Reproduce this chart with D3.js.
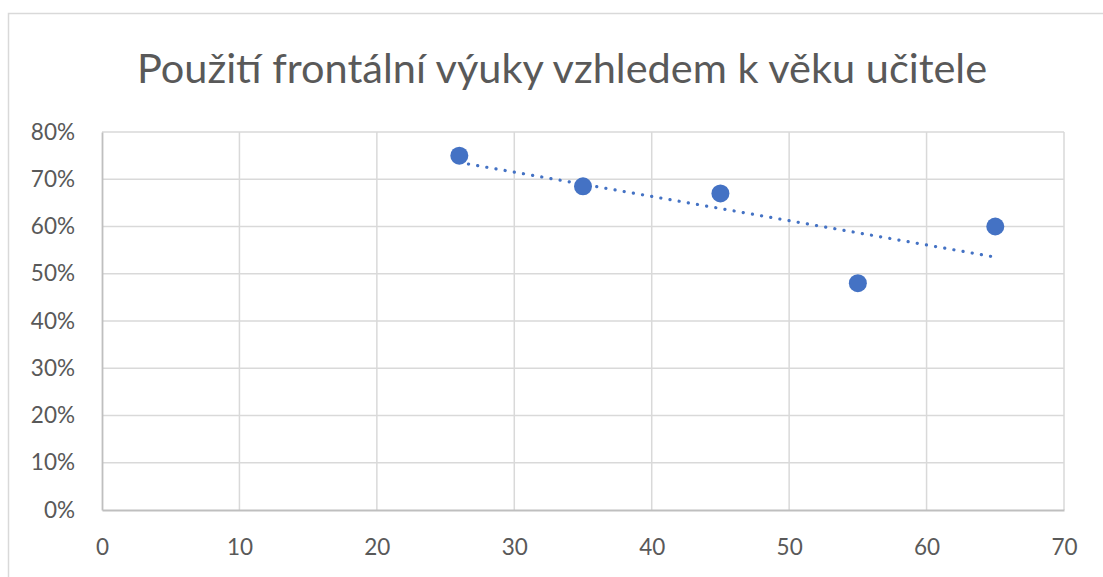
<!DOCTYPE html>
<html><head><meta charset="utf-8">
<script src="https://cdn.jsdelivr.net/npm/d3@7"></script>
<style>body{margin:0;background:#fff;}svg{display:block;}</style>
</head><body>
<svg id="c" width="1103" height="577"></svg>
<script>
const title = "Použití frontální výuky vzhledem k věku učitele";
const ages = [26, 35, 45, 55, 65];
const shares = [0.75, 0.685, 0.67, 0.48, 0.60];
const xTicks = [0, 10, 20, 30, 40, 50, 60, 70];
const yTicks = [0, 0.1, 0.2, 0.3, 0.4, 0.5, 0.6, 0.7, 0.8];

const svg = d3.select("#c");
const font = "Lato, 'Open Sans', sans-serif";
const textColor = "#595959";

// chart border
svg.append("rect").attr("x", 8.5).attr("y", 13.5).attr("width", 1120).attr("height", 600)
  .attr("fill", "none").attr("stroke", "#d9d9d9").attr("stroke-width", 1.5);

const x = d3.scaleLinear().domain([0, 70]).range([102, 1064]);
const y = d3.scaleLinear().domain([0, 0.8]).range([510, 132]);

// title
svg.append("text").attr("x", 562).attr("y", 83).attr("text-anchor", "middle")
  .attr("font-family", font).attr("font-size", 41.5).attr("fill", textColor).text(title);

// gridlines
const g = svg.append("g");
g.selectAll(".vg").data(xTicks.filter(d => d > 0)).join("line")
  .attr("x1", d => x(d)).attr("x2", d => x(d)).attr("y1", y(0)).attr("y2", y(0.8))
  .attr("stroke", "#d9d9d9").attr("stroke-width", 1.5);
g.selectAll(".hg").data(yTicks.filter(d => d > 0)).join("line")
  .attr("x1", x(0)).attr("x2", x(70)).attr("y1", d => y(d)).attr("y2", d => y(d))
  .attr("stroke", "#d9d9d9").attr("stroke-width", 1.5);

// axes
const xAxis = svg.append("g").attr("transform", `translate(0,${y(0)})`)
  .call(d3.axisBottom(x).tickValues(xTicks).tickSize(0).tickPadding(29).tickFormat(d3.format("d")));
const yAxis = svg.append("g").attr("transform", `translate(${x(0)},0)`)
  .call(d3.axisLeft(y).tickValues(yTicks).tickSize(0).tickPadding(27).tickFormat(d3.format(".0%")));
[xAxis, yAxis].forEach(a => {
  a.select(".domain").attr("stroke", "#bfbfbf").attr("stroke-width", 1.8);
  a.selectAll("text").attr("font-family", font).attr("font-size", 22.5).attr("fill", textColor);
});

// trendline (linear least squares)
const mx = d3.mean(ages), my = d3.mean(shares);
const slope = d3.sum(ages, (a, i) => (a - mx) * (shares[i] - my)) / d3.sum(ages, a => (a - mx) ** 2);
const icpt = my - slope * mx;
const ext = d3.extent(ages);
svg.append("line")
  .attr("x1", x(ext[0])).attr("y1", y(icpt + slope * ext[0]))
  .attr("x2", x(ext[1])).attr("y2", y(icpt + slope * ext[1]))
  .attr("stroke", "#4472c4").attr("stroke-width", 3.2)
  .attr("stroke-dasharray", "0.1 9.2").attr("stroke-linecap", "round");

// points
svg.selectAll(".pt").data(ages).join("circle")
  .attr("cx", d => x(d)).attr("cy", (d, i) => y(shares[i])).attr("r", 9)
  .attr("fill", "#4472c4");
</script>
</body></html>
